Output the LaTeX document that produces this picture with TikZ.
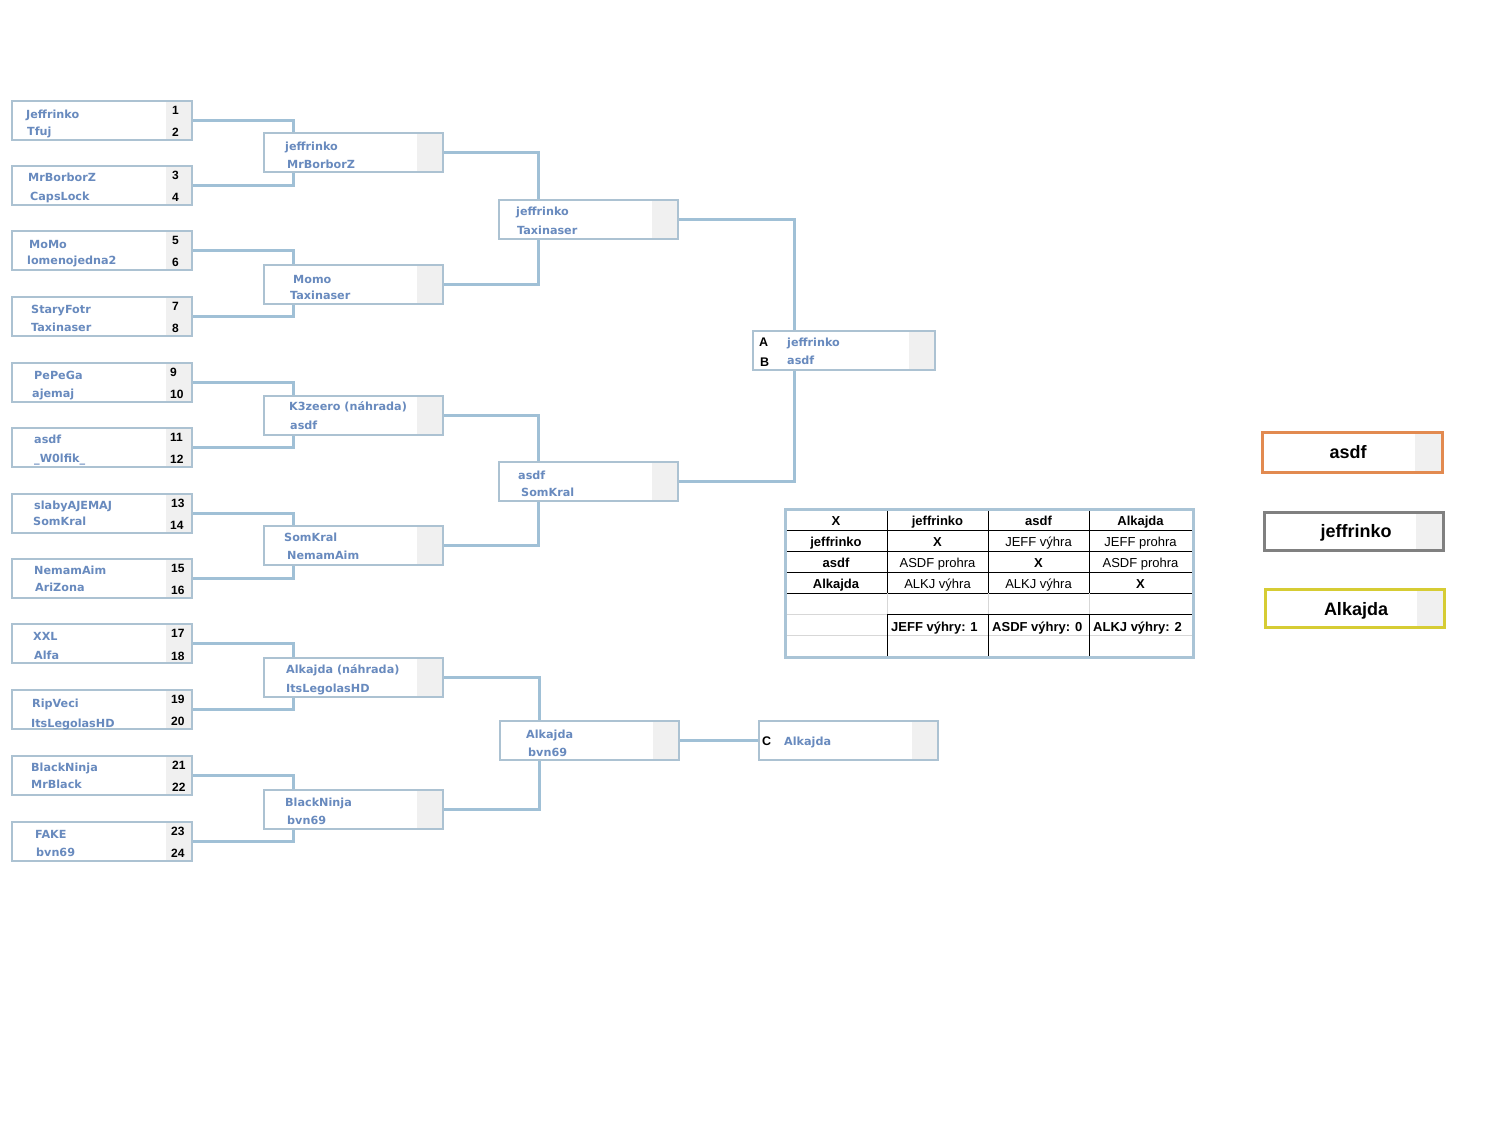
\documentclass[tikz,border=0pt]{standalone}
\usepackage{fontspec}
\newfontfamily\brfont{DejaVu Sans}
\newfontfamily\arfont{Liberation Sans}
\definecolor{conncol}{RGB}{160,192,214}
\definecolor{boxcol}{RGB}{172,194,210}
\definecolor{namecol}{RGB}{104,138,190}
\definecolor{stripcol}{RGB}{240,240,240}
\definecolor{tabblue}{RGB}{170,196,214}
\definecolor{tabgray}{RGB}{215,215,215}
\definecolor{legor}{RGB}{226,138,80}
\definecolor{leggray}{RGB}{128,128,128}
\definecolor{legyel}{RGB}{214,204,52}
\pgfdeclarelayer{bgfill}
\pgfdeclarelayer{lines}
\pgfsetlayers{bgfill,lines,main}
\tikzset{
  bx/.style={draw=boxcol, line width=1.3pt, fill=white, inner sep=0pt, outer sep=0pt,
    minimum height=39pt, anchor=north west,
    path picture={\fill[stripcol] ([xshift=-26pt]path picture bounding box.north east) rectangle (path picture bounding box.south east);}},
  legbox/.style={line width=3pt, fill=white, inner sep=0pt, outer sep=0pt,
    minimum height=40pt, minimum width=180pt, anchor=north west,
    path picture={\fill[stripcol] ([xshift=-28pt]path picture bounding box.north east) rectangle (path picture bounding box.south east);}},
  conn/.style={draw=conncol, line width=3pt},
  nm/.style={font=\brfont\bfseries\fontsize{11.2}{13}\selectfont, text=namecol, anchor=base west, inner sep=0pt},
  num/.style={font=\arfont\bfseries\fontsize{12}{14}\selectfont, anchor=base west, inner sep=0pt},
  lett/.style={font=\arfont\bfseries\fontsize{12.5}{14}\selectfont, anchor=base west, inner sep=0pt},
  tb/.style={font=\arfont\bfseries\fontsize{13}{15}\selectfont, anchor=base, inner sep=0pt},
  tr/.style={font=\arfont\fontsize{13}{15}\selectfont, anchor=base, inner sep=0pt},
  tbl/.style={font=\arfont\bfseries\fontsize{13}{15}\selectfont, anchor=base west, inner sep=0pt},
  legt/.style={font=\arfont\bfseries\fontsize{18}{20}\selectfont, anchor=base, inner sep=0pt},
  tline/.style={line width=1pt, black},
  gline/.style={line width=1pt, tabgray},
}
\newcommand{\rbox}[4]{\node[bx, minimum width=#4pt] (#1) at (#2,#3) {};}
\newcommand{\nmt}[4]{\node[nm] (#1) at (#2,#3+5) {#4};}
\newcommand{\numt}[4]{\node[num] (#1) at (#2,#3) {#4};}
\begin{document}
\begin{tikzpicture}[x=1pt,y=-1pt]
\begin{pgfonlayer}{bgfill}
\fill[white] (0,0) rectangle (1496,1144);
\end{pgfonlayer}
\useasboundingbox (0,0) rectangle (1496,1144);

% ---------- round 1 ----------
\rbox{a1}{12}{101}{180}
\rbox{a2}{12}{166}{180}
\rbox{a3}{12}{231}{180}
\rbox{a4}{12}{297}{180}
\rbox{a5}{12}{363}{180}
\rbox{a6}{12}{428}{180}
\rbox{a7}{12}{494}{180}
\rbox{a8}{12}{559}{180}
\rbox{a9}{12}{624}{180}
\rbox{a10}{12}{690}{180}
\rbox{a11}{12}{756}{180}
\rbox{a12}{12}{822}{180}

\nmt{n1a}{26}{113}{Jeffrinko}      \nmt{n1b}{27}{130}{Tfuj}
\nmt{n2a}{28}{176}{MrBorborZ}      \nmt{n2b}{30}{195}{CapsLock}
\nmt{n3a}{29}{243}{MoMo}           \nmt{n3b}{27}{259}{lomenojedna2}
\nmt{n4a}{31}{308}{StaryFotr}      \nmt{n4b}{31}{326}{Taxinaser}
\nmt{n5a}{34}{374}{PePeGa}         \nmt{n5b}{32}{392}{ajemaj}
\nmt{n6a}{34}{438}{asdf}           \nmt{n6b}{34}{457}{\_W0lfik\_}
\nmt{n7a}{34}{504}{slabyAJEMAJ}    \nmt{n7b}{33}{520}{SomKral}
\nmt{n8a}{34}{569}{NemamAim}       \nmt{n8b}{35}{586}{AriZona}
\nmt{n9a}{33}{635}{XXL}            \nmt{n9b}{34}{654}{Alfa}
\nmt{n10a}{32}{702}{RipVeci}       \nmt{n10b}{31}{722}{ItsLegolasHD}
\nmt{n11a}{31}{766}{BlackNinja}    \nmt{n11b}{31}{783}{MrBlack}
\nmt{n12a}{35}{833}{FAKE}          \nmt{n12b}{36}{851}{bvn69}

\numt{s1}{172}{114}{1}   \numt{s2}{172}{136}{2}
\numt{s3}{172}{179}{3}   \numt{s4}{172}{201}{4}
\numt{s5}{172}{244}{5}   \numt{s6}{172}{266}{6}
\numt{s7}{172}{310}{7}   \numt{s8}{172}{332}{8}
\numt{s9}{170}{376}{9}   \numt{s10}{170}{398}{10}
\numt{s11}{170}{441}{11} \numt{s12}{170}{463}{12}
\numt{s13}{171}{507}{13} \numt{s14}{170}{529}{14}
\numt{s15}{171}{572}{15} \numt{s16}{171}{594}{16}
\numt{s17}{171}{637}{17} \numt{s18}{171}{660}{18}
\numt{s19}{171}{703}{19} \numt{s20}{171}{725}{20}
\numt{s21}{172}{769}{21} \numt{s22}{172}{791}{22}
\numt{s23}{171}{835}{23} \numt{s24}{171}{857}{24}

% ---------- round 2 ----------
\rbox{b1}{264}{133}{179}
\rbox{b2}{264}{265}{179}
\rbox{b3}{264}{396}{179}
\rbox{b4}{264}{526}{179}
\rbox{b5}{264}{658}{179}
\rbox{b6}{264}{790}{179}

\nmt{m1a}{285}{145}{jeffrinko}          \nmt{m1b}{287}{163}{MrBorborZ}
\nmt{m2a}{293}{278}{Momo}               \nmt{m2b}{290}{294}{Taxinaser}
\nmt{m3a}{289}{405}{K3zeero (náhrada)}  \nmt{m3b}{290}{424}{asdf}
\nmt{m4a}{284}{536}{SomKral}            \nmt{m4b}{287}{554}{NemamAim}
\nmt{m5a}{286}{668}{Alkajda (náhrada)}  \nmt{m5b}{286}{687}{ItsLegolasHD}
\nmt{m6a}{285}{801}{BlackNinja}         \nmt{m6b}{287}{819}{bvn69}

% ---------- round 3 ----------
\rbox{c1}{499}{200}{179}
\rbox{c2}{499}{462}{179}
\rbox{c3}{500}{721}{179}

\nmt{q1a}{516}{210}{jeffrinko}  \nmt{q1b}{517}{229}{Taxinaser}
\nmt{q2a}{518}{474}{asdf}       \nmt{q2b}{521}{491}{SomKral}
\nmt{q3a}{526}{733}{Alkajda}    \nmt{q3b}{528}{751}{bvn69}

% ---------- final boxes ----------
\rbox{f}{753}{331}{182}
\node[lett] (la) at (759,346) {A};
\node[lett] (lb) at (760,366) {B};
\nmt{fa}{787}{341}{jeffrinko}
\nmt{fb}{787}{359}{asdf}

\rbox{g}{759}{721}{179}
\node[lett] (lc) at (762,745) {C};
\nmt{ga}{784}{740}{Alkajda}

% ---------- connectors ----------
\begin{pgfonlayer}{lines}
\foreach \k/\u/\l in {1/1/2,2/3/4,3/5/6,4/7/8,5/9/10,6/11/12}{
  \draw[conn] (a\u.east) -| ([xshift=29pt]b\k.north west);
  \draw[conn] (a\l.east) -| ([xshift=29pt]b\k.south west);
}
\foreach \k/\u/\l in {1/1/2,2/3/4,3/5/6}{
  \draw[conn] (b\u.east) -| ([xshift=39pt]c\k.north west);
  \draw[conn] (b\l.east) -| ([xshift=39pt]c\k.south west);
}
\draw[conn] (c1.east) -| ([xshift=41pt]f.north west);
\draw[conn] (c2.east) -| ([xshift=41pt]f.south west);
\draw[conn] (c3.east) -- (g.west);
\end{pgfonlayer}

% ---------- table ----------
\foreach \yy in {530,551,572,593}{ \draw[tline] (785,\yy) -- (1193,\yy); }
\draw[gline] (785,614) -- (887,614);
\draw[tline] (887,614) -- (1193,614);
\draw[gline] (785,635) -- (1193,635);
\foreach \xx in {887,988,1089}{
  \draw[tline] (\xx,509) -- (\xx,593);
  \draw[gline] (\xx,593) -- (\xx,614);
  \draw[tline] (\xx,614) -- (\xx,657);
}
\draw[draw=tabblue, line width=3pt] (785,509) rectangle (1193,657);

\node[tb] (h0) at (836,525) {X};
\node[tb] (h1) at (937.5,525) {jeffrinko};
\node[tb] (h2) at (1038.5,525) {asdf};
\node[tb] (h3) at (1140.5,525) {Alkajda};
\node[tb] (r1) at (836,546) {jeffrinko};
\node[tb] (r1a) at (937.5,546) {X};
\node[tr] (r1b) at (1038.5,546) {JEFF výhra};
\node[tr] (r1c) at (1140.5,546) {JEFF prohra};
\node[tb] (r2) at (836,567) {asdf};
\node[tr] (r2a) at (937.5,567) {ASDF prohra};
\node[tb] (r2b) at (1038.5,567) {X};
\node[tr] (r2c) at (1140.5,567) {ASDF prohra};
\node[tb] (r3) at (836,588) {Alkajda};
\node[tr] (r3a) at (937.5,588) {ALKJ výhra};
\node[tr] (r3b) at (1038.5,588) {ALKJ výhra};
\node[tb] (r3c) at (1140.5,588) {X};
\node[tbl] (w1) at (891,631) {JEFF výhry: 1};
\node[tbl] (w2) at (992,631) {ASDF výhry: 0};
\node[tbl] (w3) at (1093,631) {ALKJ výhry: 2};

% ---------- legend ----------
\node[legbox, draw=legor] (l1) at (1262.5,432.5) {};
\node[legt] (l1t) at (1348,458) {asdf};
\node[legbox, draw=leggray, minimum height=38pt, minimum width=179pt] (l2) at (1264.5,512.5) {};
\node[legt] (l2t) at (1356,537) {jeffrinko};
\node[legbox, draw=legyel, minimum height=38pt, minimum width=179pt] (l3) at (1265.5,589.5) {};
\node[legt] (l3t) at (1356,615) {Alkajda};
\end{tikzpicture}
\end{document}
